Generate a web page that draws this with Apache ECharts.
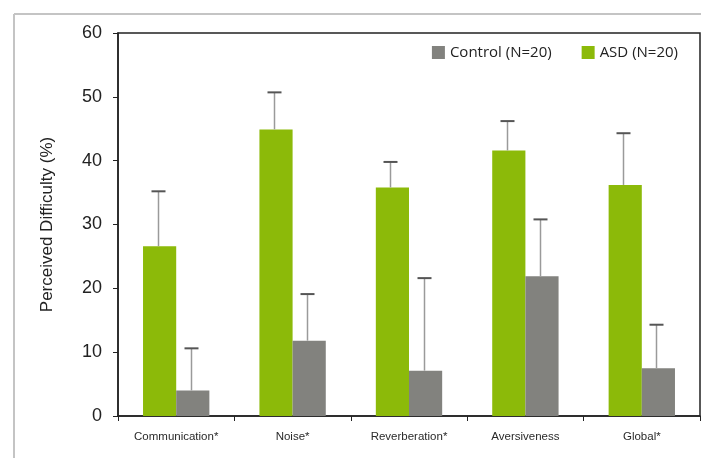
<!DOCTYPE html>
<html style="height: 100%">
<head>
    <meta charset="utf-8">
</head>
<body style="height: 100%; margin: 0; background: #fff">
    <div id="container" style="width: 701px; height: 458px"></div>
    <script type="text/javascript" src="https://cdn.jsdelivr.net/npm/echarts@6/dist/echarts.min.js"></script>
    <script type="text/javascript">
        // values (mean and SD, %)
        var categories = ['Communication*', 'Noise*', 'Reverberation*', 'Aversiveness', 'Global*'];
        var asdMean = [26.6, 44.9, 35.8, 41.6, 36.2];
        var asdSD = [8.6, 5.8, 4.0, 4.6, 8.1];
        var controlMean = [4.0, 11.8, 7.1, 21.9, 7.5];
        var controlSD = [6.6, 7.3, 14.5, 8.9, 6.8];
        var yTicks = [0, 10, 20, 30, 40, 50, 60];

        var green = '#8cba09';
        var gray = '#82827e';

        var errData = [];
        for (var i = 0; i < categories.length; i++) {
            errData.push([i, asdMean[i], asdSD[i], 0]);
            errData.push([i, controlMean[i], controlSD[i], 1]);
        }

        var dom = document.getElementById('container');
        var myChart = echarts.init(dom);

        var option = {
            animation: false,
            graphic: [
                // grey page frame from the original figure
                { type: 'line', shape: { x1: 14, y1: 14, x2: 701, y2: 14 }, style: { stroke: '#c4c4c4', lineWidth: 2 } },
                { type: 'line', shape: { x1: 14, y1: 14, x2: 14, y2: 458 }, style: { stroke: '#c4c4c4', lineWidth: 2 } }
            ],
            legend: {
                data: ['Control (N=20)', 'ASD (N=20)'],
                right: 18,
                top: 40,
                itemWidth: 13,
                itemHeight: 13,
                itemGap: 30,
                icon: 'rect',
                textStyle: { fontFamily: 'Open Sans', fontSize: 15, color: '#222' }
            },
            grid: {
                left: 118,
                right: 1,
                top: 33,
                bottom: 42,
                show: true,
                borderColor: '#222',
                borderWidth: 1.5
            },
            xAxis: {
                type: 'category',
                data: categories,
                axisLine: { lineStyle: { color: '#222', width: 1.5 } },
                axisTick: { show: true, length: 5, alignWithLabel: false, lineStyle: { color: '#222' } },
                axisLabel: { fontFamily: 'Liberation Sans', fontSize: 11.5, color: '#2a2a2a', margin: 15 }
            },
            yAxis: {
                type: 'value',
                min: yTicks[0],
                max: yTicks[yTicks.length - 1],
                interval: 10,
                name: 'Perceived Difficulty (%)',
                nameLocation: 'middle',
                nameGap: 62,
                nameTextStyle: { fontFamily: 'Liberation Sans', fontSize: 17, color: '#222' },
                axisLine: { show: true, lineStyle: { color: '#222', width: 1.5 } },
                axisTick: { show: true, length: 5, lineStyle: { color: '#222' } },
                splitLine: { show: false },
                axisLabel: { fontFamily: 'Liberation Sans', fontSize: 18, color: '#222', margin: 16 }
            },
            series: [
                {
                    name: 'ASD (N=20)',
                    type: 'bar',
                    data: asdMean,
                    barWidth: '28.5%',
                    barGap: '0%',
                    itemStyle: { color: green }
                },
                {
                    name: 'Control (N=20)',
                    type: 'bar',
                    data: controlMean,
                    barWidth: '28.5%',
                    barGap: '0%',
                    itemStyle: { color: gray }
                },
                {
                    name: 'error',
                    type: 'custom',
                    z: 5,
                    data: errData,
                    renderItem: function (params, api) {
                        var bw = api.size([1, 0])[0];
                        var off = api.value(3) === 0 ? -0.1425 * bw : 0.1425 * bw;
                        var base = api.coord([api.value(0), api.value(1)]);
                        var top = api.coord([api.value(0), api.value(1) + api.value(2)]);
                        var x = Math.round(base[0] + off - 2) + 0.5;
                        return {
                            type: 'group',
                            children: [
                                { type: 'line', shape: { x1: x, y1: base[1], x2: x, y2: top[1] }, style: { stroke: '#9a9a9a', lineWidth: 1.5 } },
                                { type: 'line', shape: { x1: x - 7, y1: top[1], x2: x + 7, y2: top[1] }, style: { stroke: '#555', lineWidth: 2 } }
                            ]
                        };
                    }
                }
            ]
        };

        myChart.setOption(option, true);
    </script>
</body>
</html>
